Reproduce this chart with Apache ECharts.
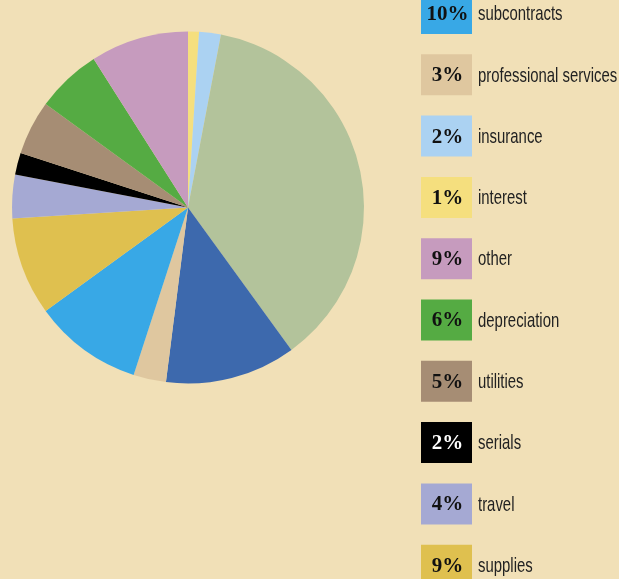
<!DOCTYPE html>
<html>
<head>
<meta charset="utf-8">
<script src="https://cdn.jsdelivr.net/npm/echarts@6/dist/echarts.min.js"></script>
<style>
html,body{margin:0;padding:0;background:#F1E0B7;}
#chart{width:619px;height:579px;}
</style>
</head>
<body>
<div id="chart"></div>
<script>
// Pie slices, clockwise from 12 o'clock
const sliceNames = ['interest','insurance','salaries','benefits','professional services','subcontracts','supplies','travel','serials','utilities','depreciation','other'];
const sliceValues = [1, 2, 37, 12, 3, 10, 9, 4, 2, 5, 6, 9];
const sliceColors = ['#F5DF7E','#ABD2F2','#B3C39B','#3D69AD','#DFC79F','#38A8E6','#DFC04F','#A5A9D3','#000000','#A68D74','#55AB43','#C69BBE'];

// Legend rows visible in the picture (top to bottom)
const legendNames = ['subcontracts','professional services','insurance','interest','other','depreciation','utilities','serials','travel','supplies'];
const legendLabels = ['10%','3%','2%','1%','9%','6%','5%','2%','4%','9%'];

const chart = echarts.init(document.getElementById('chart'));

const colorOf = {};
sliceNames.forEach((n, i) => colorOf[n] = sliceColors[i]);

const graphics = [];
const rowTop0 = -7, rowStep = 61.3, boxX = 421, boxW = 51, boxH = 41;
legendNames.forEach((n, i) => {
  const y = rowTop0 + i * rowStep;
  const dark = colorOf[n] === '#000000';
  graphics.push({
    type: 'rect', x: boxX, y: y,
    shape: {x: 0, y: 0, width: boxW, height: boxH},
    style: {fill: colorOf[n]}, silent: true
  });
  graphics.push({
    type: 'text', x: boxX + boxW / 2 + 1, y: y + boxH / 2 + 1,
    style: {text: legendLabels[i], fill: dark ? '#ffffff' : '#111111',
      fontFamily: '"Liberation Serif", "DejaVu Serif", serif', fontSize: 21, fontWeight: 'bold',
      align: 'center', verticalAlign: 'middle'}, silent: true
  });
  graphics.push({
    type: 'text', x: 478, y: y + boxH / 2 + 1, scaleX: 0.71, scaleY: 1,
    style: {text: n, fill: '#222222',
      fontFamily: '"Liberation Sans", Arial, sans-serif', fontSize: 21,
      align: 'left', verticalAlign: 'middle'}, silent: true
  });
});

chart.setOption({
  backgroundColor: '#F1E0B7',
  animation: false,
  series: [{
    type: 'pie',
    center: [188, 207.5],
    radius: [0, 176],
    startAngle: 90,
    clockwise: true,
    label: {show: false},
    labelLine: {show: false},
    silent: true,
    itemStyle: {borderWidth: 0},
    data: sliceNames.map((n, i) => ({name: n, value: sliceValues[i], itemStyle: {color: sliceColors[i]}}))
  }],
  graphic: graphics
});
</script>
</body>
</html>
